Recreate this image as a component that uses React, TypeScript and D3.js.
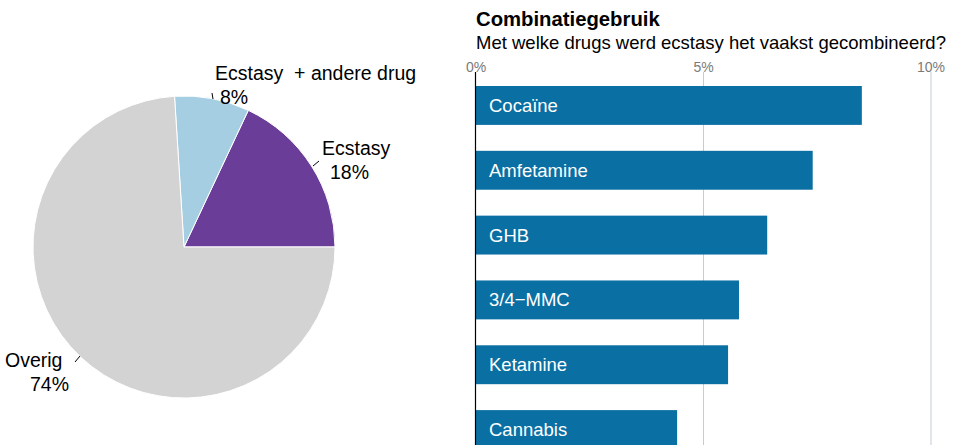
import React from "react";
import * as d3 from "d3";

const pieLabels = ["Ecstasy", "Ecstasy  + andere drug", "Overig"];
const pieValues = [18, 8, 74];
const pieColors = ["#6a3d98", "#a6cee3", "#d3d3d3"];

const barCategories = ["Cocaïne", "Amfetamine", "GHB", "3/4\u2212MMC", "Ketamine", "Cannabis"];
const barValues = [8.48, 7.4, 6.4, 5.78, 5.54, 4.42];
const tickValues = [0, 5, 10];

const FONT = "'Liberation Sans', Arial, Helvetica, sans-serif";

export default function App() {
  const W = 957, H = 445;
  const cx = 184, cy = 247, r = 151;

  const pie = d3.pie<number>().sort(null).value((d) => d)
    .startAngle(Math.PI / 2).endAngle(Math.PI / 2 - 2 * Math.PI);
  const arcs = pie(pieValues);
  const arcGen = d3.arc<d3.PieArcDatum<number>>().innerRadius(0).outerRadius(r);

  const x = d3.scaleLinear().domain([0, 10]).range([476, 931]);
  const y = d3.scaleBand<string>().domain(barCategories).range([86, 449]).paddingInner(0.4).paddingOuter(0);

  const pieLabelPos = [
    { tx: 322, ty: 155, px: 330, py: 179, line: [313, 166, 319, 161] },
    { tx: 215, ty: 80, px: 220, py: 104, line: [212, 93, 213, 99] },
    { tx: 5, ty: 367, px: 30, py: 391, line: [75, 362, 80, 356] },
  ];

  return (
    <svg width={W} height={H} style={{ position: "fixed", left: 0, top: 0 }} fontFamily={FONT}>
      <rect width={W} height={H} fill="#fff" />
      <g transform={`translate(${cx},${cy})`}>
        {arcs.map((a, i) => (
          <path key={i} d={arcGen(a) || ""} fill={pieColors[i]} stroke="#fff" strokeWidth={1} />
        ))}
      </g>
      {pieLabels.map((l, i) => {
        const p = pieLabelPos[i];
        return (
          <g key={l}>
            <line x1={p.line[0]} y1={p.line[1]} x2={p.line[2]} y2={p.line[3]} stroke="#000" strokeWidth={1} />
            <text x={p.tx} y={p.ty} fontSize={19.5} fill="#000" style={{ whiteSpace: "pre" }}>{l}</text>
            <text x={p.px} y={p.py} fontSize={19.5} fill="#000">{pieValues[i]}%</text>
          </g>
        );
      })}

      <text x={476} y={26} fontSize={20.3} fontWeight="bold" fill="#000">Combinatiegebruik</text>
      <text x={476} y={49} fontSize={18.5} fill="#000">Met welke drugs werd ecstasy het vaakst gecombineerd?</text>

      {tickValues.map((t) => (
        <g key={t}>
          {t !== 0 && <line x1={x(t)} x2={x(t)} y1={72} y2={H} stroke="#c5ccd6" strokeWidth={1} />}
          <text x={x(t)} y={72} fontSize={14} fill="#7a7a7a" textAnchor="middle">{t}%</text>
        </g>
      ))}
      {barCategories.map((c, i) => (
        <g key={c}>
          <rect x={x(0)} y={y(c)} width={x(barValues[i]) - x(0)} height={y.bandwidth()} fill="#0a6fa3" />
          <text x={x(0) + 13} y={(y(c) as number) + y.bandwidth() / 2 + 6.5} fontSize={18.5} fill="#fff">{c}</text>
        </g>
      ))}
      <line x1={475.5} x2={475.5} y1={72} y2={H} stroke="#000" strokeWidth={1.2} />
    </svg>
  );
}
